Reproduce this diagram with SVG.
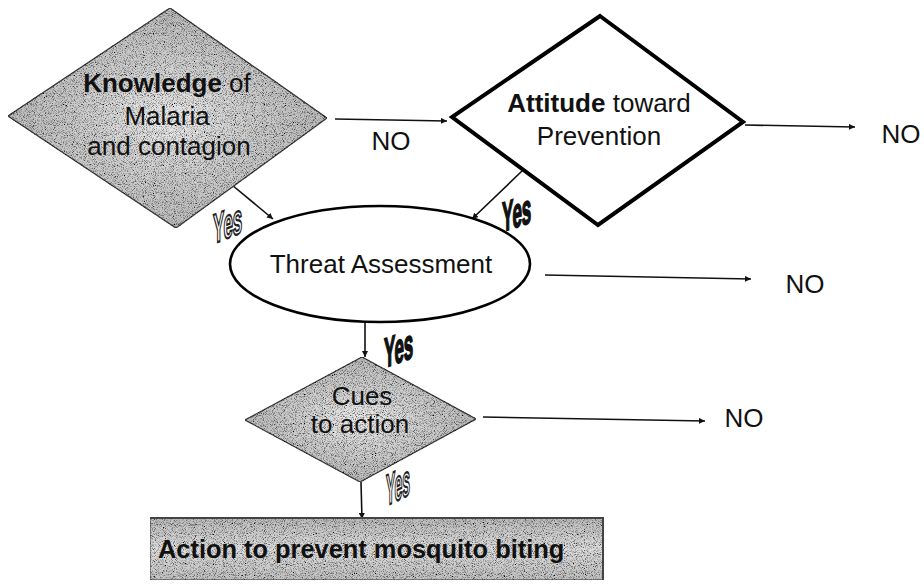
<svg xmlns="http://www.w3.org/2000/svg" width="924" height="588" viewBox="0 0 924 588">
  <style>
    .lbl { font-family: "Liberation Sans", Arial, sans-serif; font-size: 26px; fill: #111; }
    .b { font-weight: bold; }
    .no { font-family: "Liberation Sans", Arial, sans-serif; font-size: 26px; fill: #111; }
    .shaded { fill: url(#halftone); stroke: #3a3a3a; stroke-width: 1.2; filter: url(#grain); }
    .plain { fill: #fff; stroke: #000; stroke-width: 4; stroke-linejoin: miter; }
    .conn { stroke: #111; stroke-width: 1.6; fill: none; }
    .yes { font-family: "Liberation Sans", Arial, sans-serif; font-weight: bold; font-size: 20px; }
    .yes-solid { fill: #111; stroke: #111; stroke-width: 0.9; }
    .yes-hollow { fill: #fff; stroke: #222; stroke-width: 1.1; }
  </style>
  <defs>
    <radialGradient id="halftone" cx="0.5" cy="0.5" r="0.6">
      <stop offset="0" stop-color="#ececec"/>
      <stop offset="0.45" stop-color="#cfcfcf"/>
      <stop offset="1" stop-color="#b4b4b4"/>
    </radialGradient>
    <linearGradient id="barfill" x1="0" y1="0" x2="0" y2="1">
      <stop offset="0" stop-color="#bdbdbd"/>
      <stop offset="0.5" stop-color="#dedede"/>
      <stop offset="1" stop-color="#c2c2c2"/>
    </linearGradient>
    <!-- halftone speckle applied over the grey fills -->
    <filter id="grain" x="0" y="0" width="1" height="1">
      <feTurbulence type="fractalNoise" baseFrequency="1.1" numOctaves="1" seed="7" result="noise"/>
      <feColorMatrix in="noise" type="matrix" values="0 0 0 0 0  0 0 0 0 0  0 0 0 0 0  3.2 0 0 0 -1.45" result="specks"/>
      <feComposite in="specks" in2="SourceGraphic" operator="in" result="clipped"/>
      <feMerge>
        <feMergeNode in="SourceGraphic"/>
        <feMergeNode in="clipped"/>
      </feMerge>
    </filter>
    <marker id="arrow" viewBox="0 0 10 10" refX="10" refY="5" markerWidth="6" markerHeight="6" markerUnits="userSpaceOnUse" orient="auto">
      <path d="M0,0 L10,5 L0,10 z" fill="#111"/>
    </marker>
  </defs>

  <rect width="924" height="588" fill="#fff"/>

  <!-- connectors -->
  <g id="connectors">
    <line class="conn" x1="335" y1="119" x2="447" y2="121" marker-end="url(#arrow)"/>
    <line class="conn" x1="745" y1="125" x2="855" y2="127" marker-end="url(#arrow)"/>
    <line class="conn" x1="232" y1="185" x2="273" y2="219" marker-end="url(#arrow)"/>
    <line class="conn" x1="522" y1="171" x2="472" y2="219" marker-end="url(#arrow)"/>
    <line class="conn" x1="545" y1="275" x2="751" y2="279" marker-end="url(#arrow)"/>
    <line class="conn" x1="365" y1="322" x2="365" y2="357" marker-end="url(#arrow)"/>
    <line class="conn" x1="483" y1="417" x2="705" y2="421" marker-end="url(#arrow)"/>
    <line class="conn" x1="361" y1="482" x2="362" y2="519" marker-end="url(#arrow)"/>

    <text class="no" x="391" y="150" text-anchor="middle">NO</text>
    <text class="no" x="901" y="143" text-anchor="middle">NO</text>
    <text class="no" x="805" y="293" text-anchor="middle">NO</text>
    <text class="no" x="744" y="427" text-anchor="middle">NO</text>
  </g>

  <!-- decision: knowledge -->
  <g id="node-knowledge">
    <polygon class="shaded" points="170,8 327,118 176,228 8,116"/>
    <text class="lbl" x="167" y="92" text-anchor="middle"><tspan class="b">Knowledge</tspan> of</text>
    <text class="lbl" x="167" y="125" text-anchor="middle">Malaria</text>
    <text class="lbl" x="169" y="155" text-anchor="middle">and contagion</text>
  </g>

  <!-- decision: attitude -->
  <g id="node-attitude">
    <polygon class="plain" points="600,16 743,122 598,225 452,117"/>
    <text class="lbl" x="599" y="112" text-anchor="middle"><tspan class="b">Attitude</tspan> toward</text>
    <text class="lbl" x="599" y="145" text-anchor="middle">Prevention</text>
  </g>

  <!-- threat assessment -->
  <g id="node-threat">
    <ellipse cx="380" cy="264" rx="150" ry="58" fill="#fff" stroke="#000" stroke-width="2.6"/>
    <text class="lbl" x="381" y="273" text-anchor="middle">Threat Assessment</text>
  </g>

  <!-- decision: cues -->
  <g id="node-cues">
    <polygon class="shaded" points="362,357 476,419 360,482 245,420"/>
    <text class="lbl" x="362" y="405" text-anchor="middle">Cues</text>
    <text class="lbl" x="360" y="433" text-anchor="middle">to action</text>
  </g>

  <!-- outcome -->
  <g id="node-action">
    <rect x="150" y="518" width="453" height="62" fill="url(#barfill)" stroke="#555" stroke-width="1.2" filter="url(#grain)"/>
    <polyline points="150,518 603,518 603,580" fill="none" stroke="#444" stroke-width="2"/>
    <text class="lbl b" x="158" y="558" style="font-size:25.4px">Action to prevent mosquito biting</text>
  </g>

  <!-- branch labels (upright letters on a rising baseline) -->
  <g id="yes-labels">
    <text class="yes yes-hollow" transform="translate(213,244) skewY(-22) scale(0.85,2.1)">Yes</text>
    <text class="yes yes-solid" transform="translate(502,232) skewY(-18) scale(0.85,2.1)">Yes</text>
    <text class="yes yes-solid" transform="translate(384,368) skewY(-20) scale(0.85,2.1)">Yes</text>
    <text class="yes yes-hollow" transform="translate(386,506) skewY(-26) scale(0.7,2.2)">Yes</text>
  </g>
</svg>
